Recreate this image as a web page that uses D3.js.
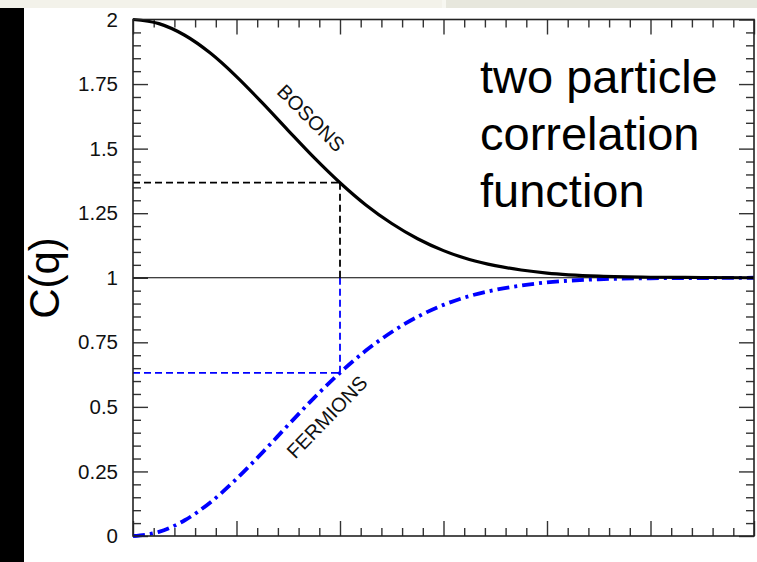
<!DOCTYPE html>
<html>
<head>
<meta charset="utf-8">
<script src="https://cdn.jsdelivr.net/npm/d3@7"></script>
<style>
  html, body { margin: 0; padding: 0; background: #fff; }
  svg { display: block; }
  text { font-family: "Liberation Sans", Arial, Helvetica, sans-serif; }
</style>
</head>
<body>
<svg id="chart" width="757" height="562"></svg>
<script>
// Relative momentum q (arbitrary units) and the correlation C(q)
const qValues   = [0, 0.25, 0.5, 0.75, 1, 1.25, 1.5, 1.75, 2, 2.25, 2.5, 2.75, 3, 3.25, 3.5, 3.75, 4, 4.5, 5, 5.5, 6];
const bosonC    = [2.000, 1.984, 1.939, 1.869, 1.779, 1.677, 1.570, 1.465, 1.368, 1.282, 1.210, 1.151, 1.105, 1.071, 1.047, 1.030, 1.018, 1.006, 1.002, 1.001, 1.000];
const fermionC  = [0.000, 0.016, 0.061, 0.131, 0.221, 0.323, 0.430, 0.535, 0.632, 0.718, 0.790, 0.849, 0.895, 0.929, 0.953, 0.970, 0.982, 0.994, 0.998, 0.999, 1.000];

// Reference point marked with guide lines
const markQ = 2;
const markBoson = 1.368;
const markFermion = 0.632;

// Axis ticks
const yMajorTicks = [0, 0.25, 0.5, 0.75, 1, 1.25, 1.5, 1.75, 2];
const yTickLabels = ["0", "0.25", "0.5", "0.75", "1", "1.25", "1.5", "1.75", "2"];
const xMajorTicks = [0, 1, 2, 3, 4, 5, 6];

const svg = d3.select("#chart");
const W = 757, H = 562;

// page furniture: top strip and left dark band
svg.append("rect").attr("x", 0).attr("y", 0).attr("width", 442).attr("height", 8).attr("fill", "#f3f2ea");
svg.append("rect").attr("x", 442).attr("y", 0).attr("width", 4).attr("height", 8).attr("fill", "#f7f7f1");
svg.append("rect").attr("x", 446).attr("y", 0).attr("width", W - 446).attr("height", 8).attr("fill", "#e7e7dd");
svg.append("rect").attr("x", 0).attr("y", 8).attr("width", 24).attr("height", H - 8).attr("fill", "#000");

const plot = { left: 133, right: 754, top: 19.5, bottom: 536 };

const x = d3.scaleLinear().domain([0, 6]).range([plot.left, plot.right]);
const y = d3.scaleLinear().domain([0, 2]).range([plot.bottom, plot.top]);

const xMinor = d3.range(0, 6.0001, 0.2).filter(v => Math.abs(v - Math.round(v)) > 1e-6);
const yMinor = d3.range(0, 2.0001, 0.05).filter(v => Math.abs(v * 4 - Math.round(v * 4)) > 1e-6);

const tickColor = "#333";
function styleAxis(g) {
  g.select(".domain").remove();
  g.selectAll(".tick line").attr("stroke", tickColor).attr("stroke-width", 1.4);
}

// left axis with labels
svg.append("g").attr("transform", `translate(${plot.left},0)`)
  .call(d3.axisLeft(y).tickValues(yMajorTicks).tickSize(-15).tickPadding(15)
    .tickFormat((d, i) => yTickLabels[i]))
  .call(styleAxis)
  .call(g => g.selectAll("text").attr("font-size", 20.5).attr("fill", "#111")
    .attr("font-family", "Liberation Sans, Arial, sans-serif"));
svg.append("g").attr("transform", `translate(${plot.left},0)`)
  .call(d3.axisLeft(y).tickValues(yMinor).tickSize(-8).tickFormat(""))
  .call(styleAxis);

// right axis
svg.append("g").attr("transform", `translate(${plot.right},0)`)
  .call(d3.axisRight(y).tickValues(yMajorTicks).tickSize(-15).tickFormat(""))
  .call(styleAxis);
svg.append("g").attr("transform", `translate(${plot.right},0)`)
  .call(d3.axisRight(y).tickValues(yMinor).tickSize(-8).tickFormat(""))
  .call(styleAxis);

// bottom axis
svg.append("g").attr("transform", `translate(0,${plot.bottom})`)
  .call(d3.axisBottom(x).tickValues(xMajorTicks).tickSize(-15).tickFormat(""))
  .call(styleAxis);
svg.append("g").attr("transform", `translate(0,${plot.bottom})`)
  .call(d3.axisBottom(x).tickValues(xMinor).tickSize(-8).tickFormat(""))
  .call(styleAxis);

// top axis
svg.append("g").attr("transform", `translate(0,${plot.top})`)
  .call(d3.axisTop(x).tickValues(xMajorTicks).tickSize(-15).tickFormat(""))
  .call(styleAxis);
svg.append("g").attr("transform", `translate(0,${plot.top})`)
  .call(d3.axisTop(x).tickValues(xMinor).tickSize(-8).tickFormat(""))
  .call(styleAxis);

// guide lines to the marked point
const guideDash = "7,4";
svg.append("line")
  .attr("x1", x(0)).attr("x2", x(markQ)).attr("y1", y(markBoson)).attr("y2", y(markBoson))
  .attr("stroke", "#000").attr("stroke-width", 1.8).attr("stroke-dasharray", guideDash);
svg.append("line")
  .attr("x1", x(markQ)).attr("x2", x(markQ)).attr("y1", y(markBoson)).attr("y2", y(1))
  .attr("stroke", "#000").attr("stroke-width", 1.8).attr("stroke-dasharray", guideDash);
svg.append("line")
  .attr("x1", x(0)).attr("x2", x(markQ)).attr("y1", y(markFermion)).attr("y2", y(markFermion))
  .attr("stroke", "#0000ff").attr("stroke-width", 1.8).attr("stroke-dasharray", guideDash);
svg.append("line")
  .attr("x1", x(markQ)).attr("x2", x(markQ)).attr("y1", y(1)).attr("y2", y(markFermion))
  .attr("stroke", "#0000ff").attr("stroke-width", 1.8).attr("stroke-dasharray", guideDash);

// uncorrelated baseline C = 1
svg.append("line")
  .attr("x1", x(0)).attr("x2", x(6)).attr("y1", y(1)).attr("y2", y(1))
  .attr("stroke", "#000").attr("stroke-width", 1.2);

// curves
const line = d3.line().x((d, i) => x(qValues[i])).y(d => y(d)).curve(d3.curveMonotoneX);

svg.append("path").datum(fermionC)
  .attr("d", line).attr("fill", "none")
  .attr("stroke", "#0000ff").attr("stroke-width", 3.8)
  .attr("stroke-dasharray", "12,5,3,5");

svg.append("path").datum(bosonC)
  .attr("d", line).attr("fill", "none")
  .attr("stroke", "#000").attr("stroke-width", 3.2);

// plot frame
svg.append("rect")
  .attr("x", plot.left).attr("y", plot.top)
  .attr("width", plot.right - plot.left).attr("height", plot.bottom - plot.top)
  .attr("fill", "none").attr("stroke", "#222").attr("stroke-width", 1.6);

// curve labels
svg.append("text")
  .attr("transform", "translate(311,118) rotate(45)")
  .attr("text-anchor", "middle").attr("dominant-baseline", "central")
  .attr("font-size", 20).attr("fill", "#111")
  .text("BOSONS");
svg.append("text")
  .attr("transform", "translate(327,417) rotate(-46)")
  .attr("text-anchor", "middle").attr("dominant-baseline", "central")
  .attr("font-size", 20).attr("fill", "#111")
  .text("FERMIONS");

// axis title
svg.append("text")
  .attr("transform", "translate(59,278) rotate(-90)")
  .attr("text-anchor", "middle")
  .attr("font-size", 42).attr("fill", "#000")
  .text("C(q)");

// annotation
const note = svg.append("text").attr("font-size", 47).attr("fill", "#000");
["two particle", "correlation", "function"].forEach((s, i) => {
  note.append("tspan").attr("x", 480).attr("y", 93 + i * 57).text(s);
});
</script>
</body>
</html>
